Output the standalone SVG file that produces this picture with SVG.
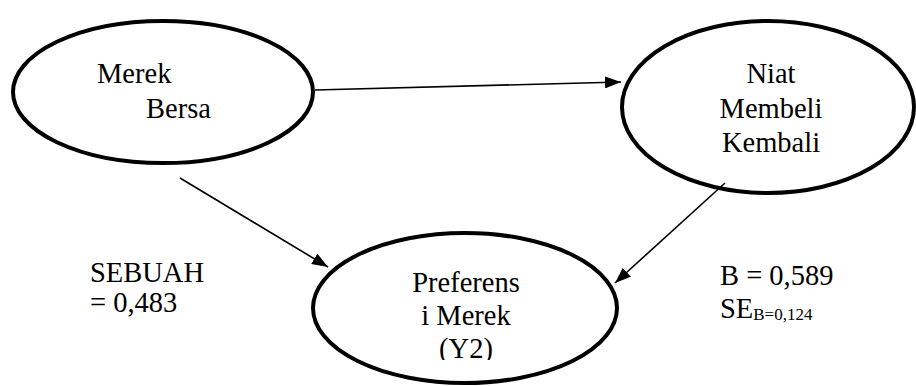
<svg xmlns="http://www.w3.org/2000/svg" width="916" height="386" viewBox="0 0 916 386">
<style>
.node ellipse{fill:#fff;stroke:#000;stroke-width:4}
text{font-family:"Liberation Serif","Times New Roman",serif;font-size:28.5px;fill:#000}
.sub{font-size:17px}
.c line{stroke:#000;stroke-width:1.6}
</style>
<defs>
<marker id="ah2" viewBox="0 0 16 12" refX="16" refY="6" markerWidth="16" markerHeight="12" markerUnits="userSpaceOnUse" orient="auto">
<path d="M0,0 L16,6 L0,12 z" fill="#000"/>
</marker>
<clipPath id="clipY2"><rect x="300" y="230" width="330" height="130"/></clipPath>
</defs>
<g id="merek-bersa" class="node">
<ellipse cx="163" cy="92" rx="150" ry="71"/>
<text x="97" y="83">Merek</text>
<text x="146" y="118">Bersa</text>
</g>
<g id="niat-membeli-kembali" class="node">
<ellipse cx="768" cy="107" rx="146" ry="86"/>
<text x="771" y="83" text-anchor="middle">Niat</text>
<text x="771" y="118" text-anchor="middle">Membeli</text>
<text x="771" y="152" text-anchor="middle">Kembali</text>
</g>
<g id="preferensi-merek" class="node">
<ellipse cx="465" cy="308" rx="152" ry="75"/>
<text x="466" y="292" text-anchor="middle">Preferens</text>
<text x="466" y="325" text-anchor="middle">i Merek</text>
<text x="466" y="358" text-anchor="middle" clip-path="url(#clipY2)">(Y2)</text>
</g>
<g id="connectors" class="c">
<line x1="315" y1="90" x2="621" y2="82" marker-end="url(#ah2)"/>
<line x1="180" y1="178" x2="328" y2="267" marker-end="url(#ah2)"/>
<line x1="725" y1="183" x2="615" y2="283" marker-end="url(#ah2)"/>
</g>
<g id="labels">
<text x="90" y="282">SEBUAH</text>
<text x="90" y="312">= 0,483</text>
<text x="720" y="285">B = 0,589</text>
<text x="720" y="318">SE<tspan class="sub" dy="2">B=0,124</tspan></text>
</g>
</svg>
